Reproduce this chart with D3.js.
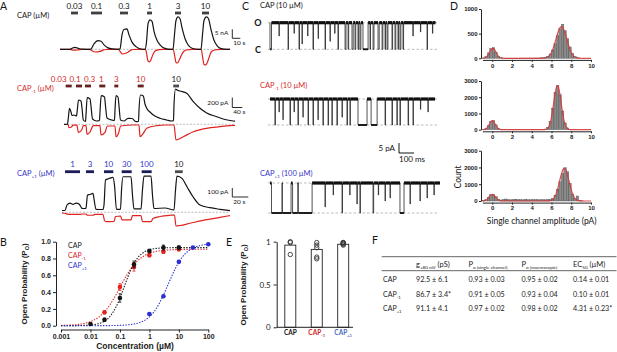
<!DOCTYPE html>
<html>
<head>
<meta charset="utf-8">
<script src="https://cdn.jsdelivr.net/npm/d3@7"></script>
<style>
  body { margin: 0; background: #fff; }
  svg { display: block; }
</style>
</head>
<body>
<div id="chart"></div>
<script>
// ---------- A: whole-cell traces (time, current) ----------
const capLabels = ["0.03", "0.1", "0.3", "1", "3", "10"]
const capPulses = [[13.75, 22.5], [38.75, 52.5], [75, 85], [108.75, 115], [143.75, 151.25], [177.5, 186.25]]
// s, nA
const capBlack = [[0,0],[12.5,0],[15,0.6],[18.75,1.1],[22.5,0.6],[27.5,0.1],[37.5,0],[38.75,0.2],[42.5,3],[47.5,4.8],[51.25,4.5],[55,2.5],[60,0.8],[65,0.2],[72.5,0],[75,0.3],[77.5,8],[80,11],[83.75,11.3],[86.25,8],[90,4],[95,1.5],[100,0.3],[106.25,0],[108.1,4],[110,14],[112.5,16.3],[115,15.5],[117.5,10],[121.25,5],[125,2.5],[131.25,0.5],[137.5,0],[141.25,0],[143.1,8],[145,16],[147.5,18],[150,17],[152.5,12],[156.25,6],[160,2.5],[165,0.6],[172.5,0],[176.25,0],[178.1,8],[180,16],[183.1,18],[185.6,17],[188.75,11],[192.5,5],[196.25,2],[201.25,0.4],[207.5,0],[212.5,0]]
const capRed = [[0,0],[12.5,0],[15,-0.3],[18.75,-0.5],[22.5,-0.3],[27.5,0],[37.5,0],[40,-0.8],[44,-1.5],[50,-1.2],[53,-0.6],[58,-0.1],[62,0],[73,0],[75.5,-1.5],[78,-2.6],[82,-2.2],[85,-1.6],[88,-0.6],[92,-0.1],[100,0],[107,0],[108.5,-3],[110,-6.5],[112,-7],[114,-5.5],[116,-3],[119,-1],[124,-0.2],[130,0],[141.5,0],[143.5,-4],[145,-7.3],[147,-7.6],[149,-6],[151,-4],[154,-1.5],[158,-0.4],[165,0],[176.5,0],[178.5,-5],[180,-8.4],[182,-8.7],[184,-7.5],[186,-5],[189,-1.5],[193,-0.4],[200,0],[212.5,0]]

const capM1Labels = ["0.03", "0.1", "0.3", "1", "3", "10", "10"]
const capM1Pulses = [[6.8, 30.8], [48, 72], [84, 108], [141.2, 165.2], [201.2, 217.2], [294.8, 318.8], [437.2, 460]]
// s, pA
const capM1Black = [[0,0],[14,6],[17.2,126],[22,320],[28,246],[32,176],[40,186],[50,166],[53.2,286],[58,486],[68,466],[72,326],[77.2,86],[86,56],[88,186],[92.8,532],[104,506],[108,366],[114,106],[130.8,66],[142,76],[144,246],[148.8,572],[162,546],[166,366],[172,126],[190.8,86],[202,76],[204,286],[208,572],[216,546],[220,366],[226,86],[240,66],[256,120],[272,116],[288,52],[298,56],[300,286],[306,586],[317.2,566],[324,406],[330.8,320],[344,246],[357.2,186],[384,120],[410.8,86],[430.8,66],[438,76],[440,386],[446,706],[452,686],[464,666],[490.8,620],[517.2,452],[544,320],[570.8,226],[610.8,152],[644,96],[677.2,66],[684,62]]
const capM1Red = [[0,-4],[16,-4],[20,-68],[30,-54],[36,-18],[52,-18],[57.2,-160],[70.8,-114],[77.2,-28],[88,-28],[92,-200],[104,-154],[117.2,-28],[144,-24],[148,-214],[164,-160],[173.2,-34],[204,-34],[208,-248],[217.2,-194],[226.8,-34],[277.2,-14],[300,-14],[304,-248],[317.2,-180],[330.8,-80],[370.8,-28],[410.8,-14],[440,-14],[448,-314],[477.2,-248],[517.2,-148],[570.8,-80],[624,-48],[677.2,-20],[684,-20]]

const capP1Labels = ["1", "3", "10", "30", "100", "10"]
const capP1Pulses = [[3.75, 22.5], [30, 40], [52.5, 64.1], [74.6, 87.1], [99.6, 112.1], [141.25, 150.9]]
// s, pA
const capP1Black = [[0,20],[3.75,20],[6.25,81],[10,103],[13.75,87],[17.5,103],[21.25,92],[23.1,70],[25,44],[28.75,42],[30,48],[31.9,192],[35,198],[38.75,211],[40,148],[42.5,33],[51.25,31],[52.5,81],[54.4,359],[58.75,375],[63.75,389],[65.6,303],[68.1,33],[73.1,33],[74.4,248],[76.25,395],[86.25,395],[88.1,192],[90,37],[98.75,37],[100.6,248],[102.5,403],[111.25,403],[113.1,192],[115,42],[128.75,48],[140,26],[141.9,248],[143.75,403],[150,377],[156.25,284],[163.75,173],[172.5,81],[185,51],[197.5,33],[210,18]]
const capP1Red = [[0,-8],[5,-13],[7.5,-22],[22.5,-24],[25,-19],[30,-19],[31.9,-33],[38.75,-33],[41.25,-24],[51.25,-24],[53.1,-91],[55,-104],[65,-102],[66.9,-47],[73.1,-41],[75,-85],[86.25,-85],[88.1,-36],[98.75,-36],[100.6,-104],[111.25,-104],[113.75,-69],[122.5,-47],[135,-33],[140.6,-30],[142.5,-152],[147.5,-147],[160,-122],[178.75,-85],[197.5,-56],[210,-36]]

// ---------- B: concentration-response ----------
const bTicks = [0.001, 0.01, 0.1, 1, 10, 100]
const bTickLabels = ["0.001", "0.01", "0.1", "1", "10", "100"]
const capConc = [0.01, 0.03, 0.1, 0.3, 1, 3, 10]
const capPo = [0.02, 0.07, 0.33, 0.73, 0.89, 0.93, 0.93]
const capErr = [0.01, 0.02, 0.05, 0.04, 0.02, 0.03, 0.02]
const capM1Conc = [0.03, 0.1, 0.3, 1, 3, 10]
const capM1Po = [0.16, 0.46, 0.70, 0.84, 0.88, 0.91]
const capM1Err = [0.02, 0.04, 0.05, 0.02, 0.02, 0.02]
const capP1Conc = [1, 3, 10, 30, 100]
const capP1Po = [0.14, 0.35, 0.76, 0.93, 0.97]
const capP1Err = [0.01, 0.01, 0.01, 0.01, 0.01]
// Hill fits: EC50 (µM), slope, max Po
const hillEC50 = [0.14, 0.10, 4.31]
const hillN = [1.8, 1.25, 1.45]
const hillMax = [0.93, 0.91, 0.98]

// ---------- C: single-channel events [start ms, duration ms, depth] ----------
const ch1Events = [[0,10,1],[60,2,0.5],[120,3,1],[160,2,0.4],[193,3,1],[213,2,0.8],[250,2,0.5],[286,3,1],[320,2,0.6],[366,3,1],[399,2,0.7],[430,2,0.4],[452,3,1],[499,6,1],[519,4,1],[545,8,1],[565,5,1],[585,4,1],[598,6,1],[618,34,1],[665,3,1],[685,6,1],[718,8,1],[745,5,1],[765,3,1],[778,6,1],[811,4,1],[831,5,1],[851,3,1],[864,6,1],[884,4,1],[950,2,0.5],[1000,2,0.35],[1044,3,1],[1080,2,0.4]]
const ch2Events = [[33,3,1],[60,2,0.5],[86,2,0.8],[133,3,1],[160,2,0.5],[186,3,1],[219,2,0.7],[253,3,1],[286,3,1],[319,2,0.8],[352,3,1],[386,3,1],[412,2,1],[445,3,1],[479,2,0.7],[512,3,1],[532,2,1],[585,60,1],[672,40,1],[765,3,1],[811,3,1],[844,2,1],[864,3,1],[918,3,1],[951,2,1],[1000,2,0.4],[1050,2,0.5]]
const ch3Events = [[10,70,1],[82,58,1],[150,35,1],[188,92,1],[366,2,0.8],[420,2,0.4],[479,3,1],[530,2,0.4],[578,2,0.7],[598,3,1],[685,4,1],[720,2,0.4],[765,2,0.6],[798,2,0.5],[864,27,1],[931,2,0.7],[997,2,0.6],[1044,2,0.5],[1090,2,0.4]]
const chEnds = [1100, 1097, 1130]

// ---------- D: amplitude histograms (bins of 0.25 pA from -1 to 10) ----------
const hist1 = [5,35,110,195,215,120,40,10,4,3,3,4,3,4,3,4,4,5,4,5,5,6,6,8,12,20,42,88,170,300,460,600,690,560,400,230,100,35,10,3,0,0,0,0]
const hist2 = [10,60,250,520,570,300,80,20,8,6,6,5,6,5,6,6,7,6,7,8,8,10,10,12,20,40,150,520,1330,2300,2720,2150,1150,420,110,25,6,0,0,0,0,0,0,0]
const hist3 = [20,80,230,380,400,260,110,60,90,120,80,70,90,110,75,80,70,100,80,70,90,75,80,70,85,70,90,100,160,350,700,1150,1650,1980,1750,1050,420,150,300,40,10,0,0,0]
// two-Gaussian fits: [amplitude, mean, sd]
const fit1 = [[205, 0.05, 0.33], [640, 7.0, 0.55]]
const fit2 = [[560, 0.0, 0.30], [2700, 6.6, 0.38]]
const fit3 = [[390, 0.0, 0.33], [1950, 7.3, 0.48]]
const histMax = [1000, 3000, 3000]
const histTicks = [[0, 500, 1000], [0, 1000, 2000, 3000], [0, 1000, 2000, 3000]]

// ---------- E: single-channel Po ----------
const eGroups = ["CAP", "CAP-1", "CAP+1"]
const eMeans = [0.96, 0.91, 0.97]
const ePoints = [[1.0, 0.99, 0.85], [0.99, 0.96, 0.93, 0.82, 0.80], [0.99, 0.98, 0.97, 0.96, 0.99]]

// ---------- F: table ----------
const fCond = ["92.5 ± 6.1", "86.7 ± 3.4*", "91.1 ± 4.1"]
const fPoSingle = ["0.93 ± 0.03", "0.91 ± 0.05", "0.97 ± 0.02"]
const fPoMacro = ["0.95 ± 0.02", "0.93 ± 0.04", "0.98 ± 0.02"]
const fEC50 = ["0.14 ± 0.01", "0.10 ± 0.01", "4.31 ± 0.23*"]

// ======================================================
const LATO = "Lato, 'Open Sans', sans-serif"
const ARIAL = "'Liberation Sans', Arial, sans-serif"
const RED = "#e0231f", BLUE = "#2a2fd0", INK = "#141414"
const LBL_RED = "#d42a2a", LBL_BLUE = "#3535c6"

const svg = d3.select("#chart").append("svg")
  .attr("width", 617).attr("height", 352).attr("viewBox", [0, 0, 617, 352])

// text with subscript pieces: parts = [[text, isSub], ...]
function subText(parent, x, y, parts, { size = 8, sub = 5, fill = INK, anchor = "start", weight = "normal", family = LATO } = {}) {
  const t = parent.append("text").attr("x", x).attr("y", y)
    .attr("font-size", size).attr("fill", fill).attr("text-anchor", anchor)
    .attr("font-weight", weight).attr("font-family", family)
  let shift = 0
  parts.forEach(([s, isSub]) => {
    const want = isSub ? size * 0.3 : 0
    t.append("tspan").attr("dy", want - shift).attr("font-size", isSub ? sub : size).text(s)
    shift = want
  })
  return t
}
const nameParts = i => i === 0 ? [["CAP"]] : [["CAP"], [i === 1 ? "-1" : "+1", true]]

function styleAxis(sel, size) {
  sel.select(".domain").attr("stroke", "#222").attr("stroke-width", 1)
  sel.selectAll(".tick line").attr("stroke", "#222").attr("stroke-width", 1)
  sel.selectAll(".tick text").attr("font-family", ARIAL).attr("font-weight", "bold")
    .attr("font-size", size).attr("fill", "#222")
}

// panel letters
;[["A", 0, 10], ["B", 0, 246], ["C", 242, 10], ["D", 450, 10], ["E", 226, 246], ["F", 372, 244]].forEach(([l, x, y]) => {
  svg.append("text").attr("x", x).attr("y", y).attr("font-family", LATO).attr("font-size", 10.5).attr("fill", INK).text(l)
})

// ---------------- A ----------------
function drawTrace(cfg) {
  const g = svg.append("g")
  const x = d3.scaleLinear().domain(cfg.tDomain).range(cfg.xRange)
  const y = d3.scaleLinear().domain([0, cfg.barI]).range([cfg.base, cfg.base - cfg.barIPx])
  g.append("line").attr("x1", cfg.xRange[0]).attr("x2", cfg.xRange[1]).attr("y1", y(0)).attr("y2", y(0))
    .attr("stroke", "#a0a0a0").attr("stroke-width", 0.7).attr("stroke-dasharray", "2,1.5")
  const line = d3.line().x(d => x(d[0])).y(d => y(d[1])).curve(d3.curveMonotoneX)
  g.append("path").datum(cfg.red).attr("d", line).attr("fill", "none").attr("stroke", RED).attr("stroke-width", 1.2)
  g.append("path").datum(cfg.black).attr("d", line).attr("fill", "none").attr("stroke", INK).attr("stroke-width", 1.2)

  g.selectAll("rect.pulse").data(cfg.pulses).join("rect").attr("class", "pulse")
    .attr("x", d => x(d[0])).attr("width", d => x(d[1]) - x(d[0]))
    .attr("y", cfg.barY - 1.4).attr("height", 2.8)
    .attr("fill", (d, i) => i === cfg.lastBlack ? "#4a4a4a" : cfg.barColor)
  g.selectAll("text.conc").data(cfg.labels).join("text").attr("class", "conc")
    .attr("x", (d, i) => x((cfg.pulses[i][0] + cfg.pulses[i][1]) / 2) + (cfg.nudge ? cfg.nudge[i] : 0))
    .attr("y", cfg.barY - 4.5).attr("text-anchor", "middle")
    .attr("font-family", LATO).attr("font-size", 8)
    .attr("fill", (d, i) => i === cfg.lastBlack ? INK : cfg.labelColor)
    .text(d => d)
  subText(g, 17, cfg.barY + 4.5, cfg.name, { size: 7.5, sub: 4.5, fill: cfg.labelColor })

  // scale bar
  const sx = cfg.sb[0], sy = cfg.sb[1]
  const h = y(0) - y(cfg.barI), w = x(cfg.barT) - x(0)
  g.append("path").attr("d", `M${sx},${sy - h}V${sy}H${sx + w}`).attr("fill", "none").attr("stroke", INK).attr("stroke-width", 0.9)
  g.append("text").attr("x", sx - 4).attr("y", sy - 3).attr("text-anchor", "end")
    .attr("font-family", LATO).attr("font-size", 6.5).attr("fill", INK).text(cfg.sbI)
  g.append("text").attr("x", sx + 1).attr("y", sy + 6.5)
    .attr("font-family", LATO).attr("font-size", 6.5).attr("fill", INK).text(cfg.sbT)
}

drawTrace({ tDomain: [0, 212.5], xRange: [60, 230], base: 49.3, barI: 5, barIPx: 9, barT: 10,
  black: capBlack, red: capRed, pulses: capPulses, labels: capLabels, barY: 13,
  barColor: "#404040", labelColor: INK, lastBlack: -1, name: [["CAP (µM)"]],
  sb: [232.3, 38.3], sbI: "5 nA", sbT: "10 s" })
drawTrace({ tDomain: [0, 684], xRange: [64, 235], base: 124.3, barI: 200, barIPx: 10, barT: 40,
  black: capM1Black, red: capM1Red, pulses: capM1Pulses, labels: capM1Labels, barY: 86,
  barColor: "#6a1f1f", labelColor: LBL_RED, lastBlack: 6, nudge: [-10, -4, 1.5, -1, 0, 0, 0],
  name: [["CAP"], ["-1", true], [" (µM)"]],
  sb: [232.3, 107.5], sbI: "200 pA", sbT: "40 s" })
drawTrace({ tDomain: [0, 210], xRange: [62, 230], base: 212.3, barI: 100, barIPx: 9, barT: 20,
  black: capP1Black, red: capP1Red, pulses: capP1Pulses, labels: capP1Labels, barY: 171.7,
  barColor: "#1c1c58", labelColor: LBL_BLUE, lastBlack: 5,
  name: [["CAP"], ["+1", true], [" (µM)"]],
  sb: [232.3, 197], sbI: "100 pA", sbT: "20 s" })

// ---------------- B ----------------
{
  const g = svg.append("g")
  const x = d3.scaleLog().domain([0.001, 100]).range([61, 208.3])
  const y = d3.scaleLinear().domain([0, 1]).range([325.7, 241.7])
  g.append("g").attr("transform", "translate(56,0)")
    .call(d3.axisLeft(y).tickValues([0, 0.2, 0.4, 0.6, 0.8, 1]).tickFormat(d3.format(".1f")).tickSize(3).tickSizeOuter(0).tickPadding(2))
    .call(s => styleAxis(s, 7))
  g.append("g").attr("transform", "translate(0,329.5)")
    .call(d3.axisBottom(x).tickValues(bTicks).tickFormat((d, i) => bTickLabels[i]).tickSize(3).tickSizeOuter(0).tickPadding(2))
    .call(s => styleAxis(s, 7))
  g.append("text").attr("x", 135).attr("y", 349).attr("text-anchor", "middle")
    .attr("font-family", ARIAL).attr("font-weight", "bold").attr("font-size", 8.5).attr("fill", "#222")
    .text("Concentration (µM)")
  subText(g.append("g").attr("transform", "translate(27,284) rotate(-90)"), 0, 0,
    [["Open Probability (P"], ["O", true], [")"]], { size: 8, sub: 5.5, anchor: "middle", weight: "bold", family: ARIAL, fill: "#222" })

  const colors = [INK, RED, BLUE]
  const concs = [capConc, capM1Conc, capP1Conc]
  const pos = [capPo, capM1Po, capP1Po]
  const errs = [capErr, capM1Err, capP1Err]
  const grid = d3.range(-3, 2.0001, 0.05).map(e => Math.pow(10, e))
  const line = d3.line().x(d => x(d[0])).y(d => y(d[1]))
  ;[1, 0, 2].forEach(k => {
    const curve = grid.map(c => [c, hillMax[k] * Math.pow(c, hillN[k]) / (Math.pow(c, hillN[k]) + Math.pow(hillEC50[k], hillN[k]))])
    g.append("path").datum(curve).attr("d", line).attr("fill", "none")
      .attr("stroke", colors[k]).attr("stroke-width", 1.1).attr("stroke-dasharray", "1.4,1.4")
  })
  ;[1, 0, 2].forEach(k => {
    const pts = concs[k].map((c, i) => ({ c, p: pos[k][i], e: errs[k][i] }))
    const gg = g.append("g")
    gg.selectAll("path.err").data(pts).join("path")
      .attr("d", d => `M${x(d.c) - 1.5},${y(d.p + d.e)}H${x(d.c) + 1.5}M${x(d.c)},${y(d.p + d.e)}V${y(d.p - d.e)}M${x(d.c) - 1.5},${y(d.p - d.e)}H${x(d.c) + 1.5}`)
      .attr("stroke", colors[k]).attr("stroke-width", 0.8).attr("fill", "none")
    gg.selectAll("circle").data(pts).join("circle")
      .attr("cx", d => x(d.c)).attr("cy", d => y(d.p)).attr("r", 2.3).attr("fill", colors[k])
  })
  ;[0, 1, 2].forEach(k => {
    subText(g, 68, 248 + k * 10, nameParts(k), { size: 7, sub: 4.5, fill: k === 0 ? INK : (k === 1 ? RED : BLUE) })
  })
}

// ---------------- C ----------------
{
  const g = svg.append("g")
  const x = d3.scaleLinear().domain([0, 1130]).range([270, 440])
  const levels = [[22.7, 49.3], [99, 125], [183, 213]]
  const events = [ch1Events, ch2Events, ch3Events]
  const titles = [[["CAP (10 µM)"]], [["CAP"], ["-1", true], [" (10 µM)"]], [["CAP"], ["+1", true], [" (100 µM)"]]]
  const titleY = [7.5, 87.5, 176]
  const titleColor = [INK, LBL_RED, LBL_BLUE]
  events.forEach((ev, k) => {
    const [yo, yc] = levels[k]
    ;[yo, yc].forEach(yy => g.append("line").attr("x1", 268).attr("x2", 437).attr("y1", yy).attr("y2", yy)
      .attr("stroke", "#a8a8a8").attr("stroke-width", 0.8).attr("stroke-dasharray", "2.5,2"))
    const pts = [[0, yo]]
    ev.forEach(([t, d, dep]) => {
      const lv = yo + dep * (yc - yo)
      pts.push([t, yo], [t, lv], [t + d, lv], [t + d, yo])
    })
    pts.push([chEnds[k], yo])
    g.append("path").datum(pts).attr("d", d3.line().x(d => x(d[0])).y(d => d[1]))
      .attr("fill", "none").attr("stroke", "#262626").attr("stroke-width", 0.8)
    // noisy open level
    let prev = 0
    const segs = []
    ev.forEach(([t, d]) => { if (t > prev) segs.push([prev, t]); prev = Math.max(prev, t + d) })
    segs.push([prev, chEnds[k]])
    g.selectAll(null).data(segs).join("line")
      .attr("x1", d => x(d[0])).attr("x2", d => x(d[1])).attr("y1", yo).attr("y2", yo)
      .attr("stroke", "#101010").attr("stroke-width", 3.2)
    g.selectAll(null).data(ev.filter(e => e[1] > 8 && e[2] === 1)).join("line")
      .attr("x1", d => x(d[0])).attr("x2", d => x(d[0] + d[1])).attr("y1", yc).attr("y2", yc)
      .attr("stroke", "#101010").attr("stroke-width", 1.8)
    subText(g, 260, titleY[k], titles[k], { size: 7.5, sub: 4.5, fill: titleColor[k] })
  })
  g.append("text").attr("x", 258).attr("y", 25.5).attr("text-anchor", "middle").attr("font-family", LATO).attr("font-weight", "bold").attr("font-size", 9).attr("fill", INK).text("O")
  g.append("text").attr("x", 258).attr("y", 52.5).attr("text-anchor", "middle").attr("font-family", LATO).attr("font-weight", "bold").attr("font-size", 9).attr("fill", INK).text("C")
  // scale bar: 5 pA, 100 ms
  const w = x(100) - x(0)
  g.append("path").attr("d", `M399,143V153H${399 + w}`).attr("fill", "none").attr("stroke", INK).attr("stroke-width", 1)
  g.append("text").attr("x", 395).attr("y", 151).attr("text-anchor", "end").attr("font-family", LATO).attr("font-size", 8).attr("fill", INK).text("5 pA")
  g.append("text").attr("x", 399).attr("y", 161.5).attr("font-family", LATO).attr("font-size", 8).attr("fill", INK).text("100 ms")
}

// ---------------- D ----------------
{
  const g = svg.append("g")
  const x = d3.scaleLinear().domain([-1, 10]).range([482.4, 591])
  const hists = [hist1, hist2, hist3]
  const fits = [fit1, fit2, fit3]
  const y0s = [58.3, 129.7, 201], yTops = [9, 81, 150.7]
  const centers = hist1.map((_, i) => -1 + 0.25 * i + 0.125)
  const grid = d3.range(-1, 10.0001, 0.05)
  hists.forEach((h, k) => {
    const y = d3.scaleLinear().domain([0, histMax[k]]).range([y0s[k], yTops[k]])
    g.append("g").selectAll("rect").data(h).join("rect")
      .attr("x", (d, i) => x(centers[i] - 0.125)).attr("width", x(0.25) - x(0))
      .attr("y", d => y(d)).attr("height", d => y(0) - y(d))
      .attr("fill", "#8a8a8a").attr("stroke", "#444").attr("stroke-width", 0.35)
    const fitLine = grid.map(v => [v, d3.sum(fits[k], ([a, m, s]) => a * Math.exp(-0.5 * ((v - m) / s) ** 2))])
    g.append("path").datum(fitLine).attr("d", d3.line().x(d => x(d[0])).y(d => y(d[1])))
      .attr("fill", "none").attr("stroke", "#d8393a").attr("stroke-width", 1.2).attr("stroke-opacity", 0.9)
    g.append("g").attr("transform", `translate(481,0)`)
      .call(d3.axisLeft(y).tickValues(histTicks[k]).tickFormat(d3.format("d")).tickSize(2).tickSizeOuter(0).tickPadding(1.5))
      .call(s => styleAxis(s, 6))
    g.append("g").attr("transform", `translate(0,${y0s[k] + 1.6})`)
      .call(d3.axisBottom(x).tickValues([0, 2, 4, 6, 8, 10]).tickSize(2).tickSizeOuter(0).tickPadding(1.5))
      .call(s => styleAxis(s, 6))
  })
  g.append("text").attr("transform", "translate(461,177) rotate(-90)").attr("text-anchor", "middle")
    .attr("font-family", LATO).attr("font-size", 8.5).attr("fill", INK).text("Count")
  g.append("text").attr("x", 541.7).attr("y", 224).attr("text-anchor", "middle")
    .attr("font-family", LATO).attr("font-size", 8.5).attr("fill", INK).text("Single channel amplitude (pA)")
}

// ---------------- E ----------------
{
  const g = svg.append("g")
  const y = d3.scaleLinear().domain([0, 1]).range([327.3, 241.7])
  const x = d3.scalePoint().domain(eGroups).range([290.3, 343.2])
  g.selectAll("rect").data(eMeans).join("rect")
    .attr("x", (d, i) => x(eGroups[i]) - 5.5).attr("width", 11)
    .attr("y", d => y(d)).attr("height", d => y(0) - y(d))
    .attr("fill", "#fff").attr("stroke", "#222").attr("stroke-width", 0.9)
  ePoints.forEach((pts, i) => {
    g.append("g").selectAll("circle").data(pts).join("circle")
      .attr("cx", x(eGroups[i])).attr("cy", d => y(d)).attr("r", 2.2)
      .attr("fill", "none").attr("stroke", "#333").attr("stroke-width", 0.9)
  })
  g.append("g").attr("transform", "translate(276.7,0)")
    .call(d3.axisLeft(y).tickValues([0, 0.5, 1]).tickFormat(d => d === 0.5 ? "0.5" : d3.format("d")(d)).tickSize(3).tickSizeOuter(0).tickPadding(3))
    .call(s => {
      styleAxis(s, 8)
      s.selectAll(".tick text").attr("font-family", LATO).attr("font-weight", "normal")
    })
  g.append("line").attr("x1", 276.7).attr("x2", 353).attr("y1", 327.3).attr("y2", 327.3).attr("stroke", "#222").attr("stroke-width", 1)
  ;[0, 1, 2].forEach(k => {
    subText(g, x(eGroups[k]), 335, nameParts(k), { size: 6.5, sub: 4.2, anchor: "middle", weight: "bold",
      fill: k === 0 ? INK : (k === 1 ? "#cc1f1f" : "#4b6cc4") })
  })
  subText(g.append("g").attr("transform", "translate(246,285) rotate(-90)"), 0, 0,
    [["Open Probability (P"], ["O", true], [")"]], { size: 8, sub: 5.5, anchor: "middle", weight: "bold", family: ARIAL, fill: "#222" })
}

// ---------------- F ----------------
{
  const g = svg.append("g")
  ;[256.7, 270.7].forEach(yy => g.append("line").attr("x1", 381.7).attr("x2", 616.5).attr("y1", yy).attr("y2", yy)
    .attr("stroke", "#666").attr("stroke-width", 1))
  const colX = [416, 468.5, 521.5, 573]
  const hdr = [
    [["g"], ["+80 mV", true], [" (pS)"]],
    [["P"], ["o (single channel)", true]],
    [["P"], ["o (macroscopic)", true]],
    [["EC"], ["50", true], [" (µM)"]]
  ]
  hdr.forEach((parts, i) => subText(g, colX[i], 266.8, parts, { size: 7.5, sub: 4.6, fill: "#222" }))
  const cols = [fCond, fPoSingle, fPoMacro, fEC50]
  const rowY = [282, 296.5, 311]
  ;[0, 1, 2].forEach(r => {
    subText(g, 383, rowY[r], nameParts(r), { size: 7, sub: 4.3, fill: "#222" })
    cols.forEach((col, c) => {
      g.append("text").attr("x", colX[c]).attr("y", rowY[r]).attr("font-family", LATO)
        .attr("font-size", 7.2).attr("fill", "#222").text(col[r])
    })
  })
}
</script>
</body>
</html>
